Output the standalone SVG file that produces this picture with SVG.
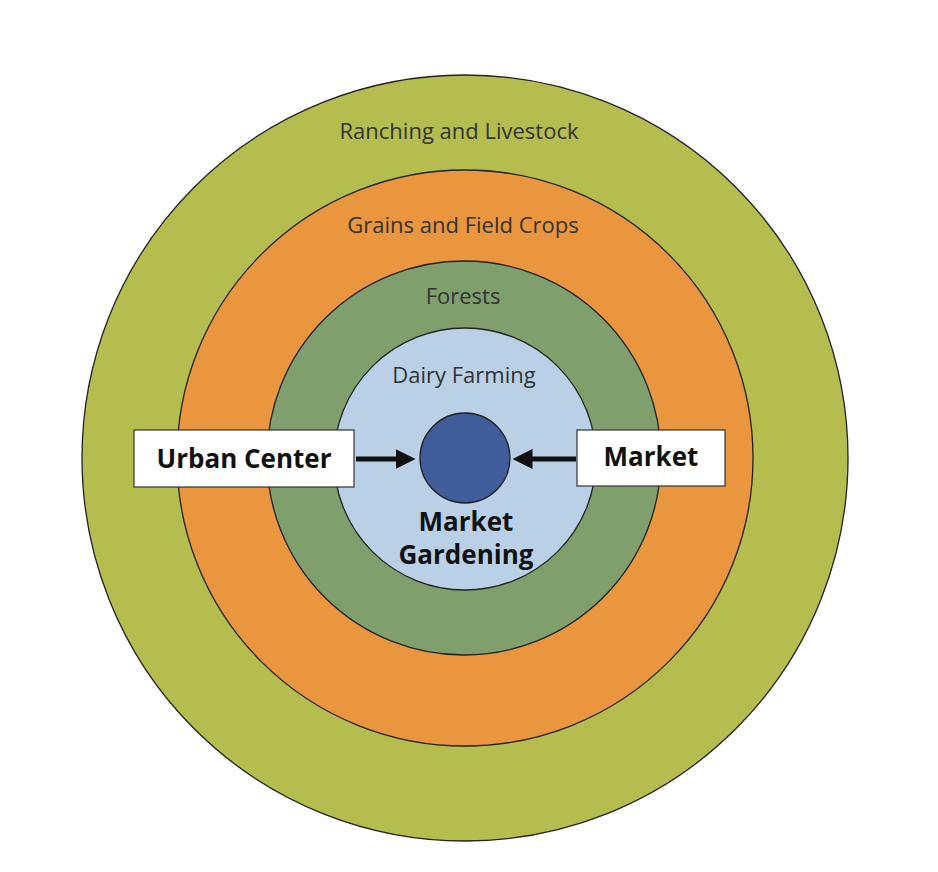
<svg xmlns="http://www.w3.org/2000/svg" width="938" height="872" viewBox="0 0 938 872">
<style>
.ring{stroke:#222;stroke-width:1.3}
.lbl{font-family:"Open Sans","Liberation Sans",sans-serif;font-size:22px;fill:#333;text-anchor:middle}
.big{font-family:"Open Sans","Liberation Sans",sans-serif;font-size:26px;font-weight:bold;fill:#111;text-anchor:middle}
.box{fill:#fff;stroke:#333;stroke-width:1.2}
.arr{stroke:#111;stroke-width:5;fill:none;marker-end:url(#ah)}
</style>
<defs><marker id="ah" markerWidth="4" markerHeight="4" refX="2.5" refY="2" orient="auto"><path d="M0,0 L4,2 L0,4 Z" fill="#111"/></marker></defs>
<rect width="938" height="872" fill="#fff"/>
<g id="ranching"><circle class="ring" cx="465" cy="458" r="383" fill="#b5bd4f"/><text class="lbl" x="459" y="139">Ranching and Livestock</text></g>
<g id="grains"><circle class="ring" cx="465" cy="458" r="288" fill="#e9963f"/><text class="lbl" x="463" y="233">Grains and Field Crops</text></g>
<g id="forests"><circle class="ring" cx="464" cy="458" r="197" fill="#7f9f6d"/><text class="lbl" x="463" y="304">Forests</text></g>
<g id="dairy"><circle class="ring" cx="465" cy="459" r="131" fill="#b9d0e7"/><text class="lbl" x="464" y="383">Dairy Farming</text></g>
<g id="market-gardening"><circle class="ring" cx="465" cy="458" r="45" fill="#3e5d9a"/><text class="big" x="466" y="531">Market</text><text class="big" x="466" y="564">Gardening</text></g>
<g id="urban-center"><rect class="box" x="134" y="430" width="220" height="57"/><text class="big" x="244" y="468">Urban Center</text></g>
<g id="market"><rect class="box" x="577" y="430" width="148" height="56"/><text class="big" x="651" y="466">Market</text></g>
<g id="connectors"><line class="arr" x1="356" y1="459" x2="408" y2="459"/><line class="arr" x1="576" y1="459" x2="520" y2="459"/></g>
</svg>
